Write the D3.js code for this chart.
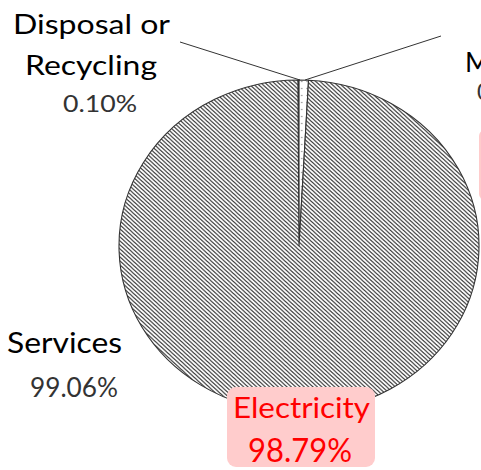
<!DOCTYPE html>
<html>
<head>
<meta charset="utf-8">
<script src="https://cdn.jsdelivr.net/npm/d3@7"></script>
<style>
  html, body { margin: 0; padding: 0; background: #fff; overflow: hidden; }
  svg { display: block; }
  text { font-family: Lato, "Open Sans", sans-serif; }
</style>
</head>
<body>
<script>
// ---- data ----
const categories = ["Disposal or Recycling", "Manufacturing", "Services"];
const shares = [0.10, 0.84, 99.06];
const shareLabels = ["0.10%", "0.84%", "99.06%"];
const highlightLabel = ["Electricity", "98.79%"];

const W = 481, H = 470;
const cx = 299, cy = 246, rx = 180, ry = 166;

const svg = d3.select("body").append("svg").attr("width", W).attr("height", H);
const defs = svg.append("defs");

// diagonal hatch
const hatch = defs.append("pattern").attr("id", "hatch")
  .attr("patternUnits", "userSpaceOnUse").attr("width", 4).attr("height", 4);
hatch.append("rect").attr("width", 4).attr("height", 4).attr("fill", "#fff");
hatch.append("path").attr("d", "M-1,-1 L5,5 M-1,3 L1,5 M3,-1 L5,1")
  .attr("stroke", "#3a3a3a").attr("stroke-width", 1.15);

// dotted fill
const dots = defs.append("pattern").attr("id", "dots")
  .attr("patternUnits", "userSpaceOnUse").attr("width", 5).attr("height", 7);
dots.append("rect").attr("width", 5).attr("height", 7).attr("fill", "#fff");
dots.append("circle").attr("cx", 2.5).attr("cy", 3.5).attr("r", 0.7).attr("fill", "#888");

const fills = ["#151515", "url(#dots)", "url(#hatch)"];

const pie = d3.pie().sort(null).value(d => d)
  .startAngle(-0.006).endAngle(2 * Math.PI - 0.006);
const arc = d3.arc().innerRadius(0).outerRadius(ry);

const g = svg.append("g")
  .attr("transform", `translate(${cx},${cy}) scale(${rx / ry},1)`);
g.selectAll("path").data(pie(shares)).join("path")
  .attr("d", arc)
  .attr("fill", (d, i) => fills[i])
  .attr("stroke", "#333")
  .attr("stroke-width", 1.1)
  .attr("vector-effect", "non-scaling-stroke");

// leader lines from top of the small slices
const topPt = [cx, cy - ry];
svg.append("line").attr("x1", topPt[0] + 1).attr("y1", topPt[1]).attr("x2", 180).attr("y2", 42)
  .attr("stroke", "#333").attr("stroke-width", 1);
svg.append("line").attr("x1", topPt[0] + 6).attr("y1", topPt[1]).attr("x2", 441).attr("y2", 36)
  .attr("stroke", "#333").attr("stroke-width", 1);

// labels: (x0, x1) is the horizontal extent the text spans
function txt(x0, x1, y, s, size, fill) {
  const t = svg.append("text").attr("x", x0).attr("y", y).attr("font-size", size)
    .attr("fill", fill).text(s);
  if (x1 != null) t.attr("textLength", x1 - x0).attr("lengthAdjust", "spacingAndGlyphs");
  return t;
}
txt(13, 170, 34, "Disposal or", 26, "#000");
txt(25, 157, 75, "Recycling", 27, "#000");
txt(63, 137, 112, shareLabels[0], 23, "#333");

txt(465, null, 72, categories[1], 27, "#000");
txt(477, null, 100, shareLabels[1], 23, "#333");

txt(7, 122, 353, categories[2], 28, "#000");
txt(30, 118, 397, shareLabels[2], 26, "#333");

// highlight box
svg.append("rect").attr("x", 227).attr("y", 387).attr("width", 148).attr("height", 80)
  .attr("rx", 9).attr("fill", "#ffcccc");
svg.append("rect").attr("x", 479).attr("y", 130).attr("width", 20).attr("height", 70)
  .attr("rx", 6).attr("fill", "#ffcccc");
txt(233, 370, 418, highlightLabel[0], 28, "#ff0000");
txt(248, 352, 462, highlightLabel[1], 32, "#ff0000");
</script>
</body>
</html>
